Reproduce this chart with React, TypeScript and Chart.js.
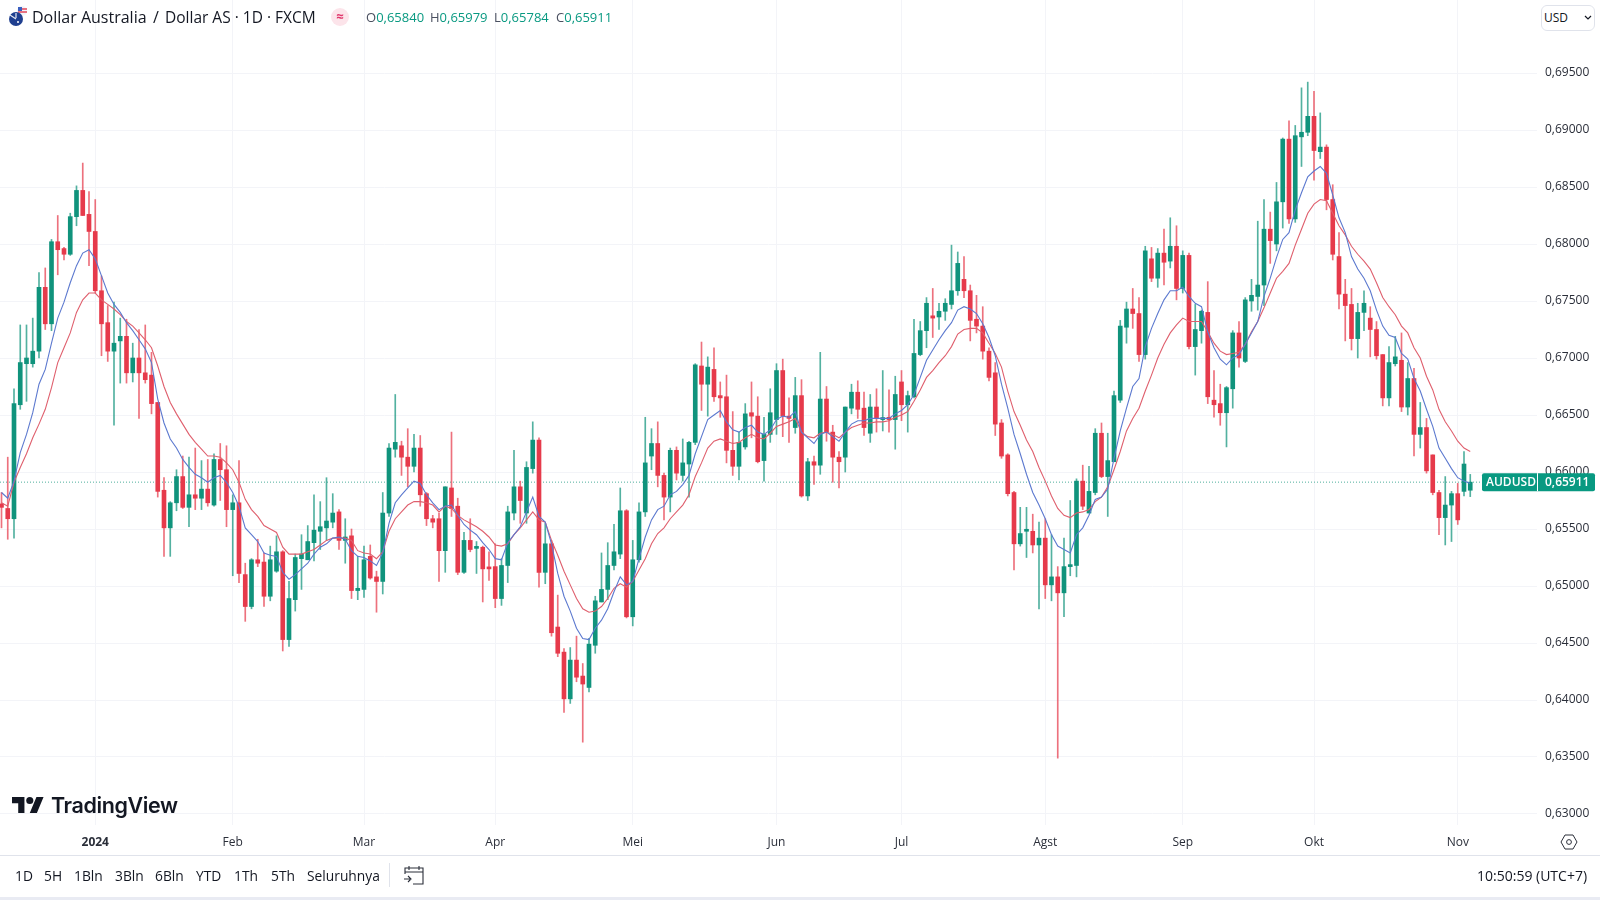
import React, { useEffect, useRef } from "react";
import { Chart, registerables } from "chart.js";

Chart.register(...registerables);

const opens = [0.6572,0.6568,0.6559,0.6659,0.6695,0.6695,0.6706,0.6762,0.673,0.6802,
0.6796,0.6791,0.6824,0.6847,0.6826,0.6811,0.6759,0.6731,0.6706,0.6715,
0.6719,0.6687,0.67,0.6687,0.6685,0.6661,0.6584,0.6551,0.6573,0.6596,
0.6569,0.658,0.6577,0.6585,0.6571,0.6611,0.6602,0.6567,0.6573,0.651,
0.6482,0.6523,0.6521,0.6491,0.6513,0.653,0.6453,0.6488,0.6524,0.6523,
0.6538,0.6548,0.6551,0.6556,0.6565,0.654,0.6544,0.6496,0.6497,0.6526,
0.6508,0.6504,0.6564,0.662,0.6623,0.6613,0.6605,0.6621,0.6581,0.6559,
0.6559,0.6531,0.6586,0.657,0.6512,0.654,0.6533,0.6534,0.6516,0.6517,
0.6489,0.6518,0.6564,0.6587,0.6564,0.6603,0.6628,0.6512,0.6537,0.6464,
0.6442,0.6401,0.6435,0.6421,0.6411,0.6448,0.6486,0.6497,0.6518,0.6528,
0.6566,0.6473,0.6523,0.6565,0.6614,0.6625,0.6597,0.6578,0.6619,0.6597,
0.6607,0.6626,0.6693,0.6677,0.669,0.6667,0.6666,0.6619,0.6605,0.6622,
0.6652,0.6649,0.661,0.6633,0.6646,0.6689,0.6649,0.6639,0.6667,0.6579,
0.6609,0.6606,0.6664,0.6635,0.6613,0.6613,0.6656,0.667,0.6656,0.6634,
0.6657,0.6646,0.6648,0.6646,0.6679,0.6659,0.6666,0.6703,0.6724,0.6737,
0.6736,0.6741,0.6747,0.6759,0.6769,0.6759,0.6734,0.6728,0.6706,0.6687,
0.6643,0.6615,0.6582,0.6537,0.6548,0.6548,0.6536,0.6542,0.6501,0.6508,
0.6494,0.6517,0.6518,0.6592,0.6564,0.6582,0.6634,0.6596,0.6609,0.6663,
0.6727,0.6743,0.6739,0.6703,0.6787,0.677,0.6792,0.6785,0.6798,0.6761,
0.679,0.671,0.6724,0.674,0.6663,0.666,0.6652,0.6673,0.6722,0.6697,
0.675,0.6754,0.6764,0.6813,0.68,0.6837,0.6892,0.6822,0.6894,0.6898,
0.6912,0.6881,0.6885,0.6839,0.6789,0.6756,0.6747,0.6717,0.674,0.6735,
0.6725,0.6703,0.6665,0.6695,0.6698,0.6657,0.6682,0.6633,0.6639,0.6615,
0.6582,0.656,0.6571,0.6581,0.6583,0.6584];

const closes = [0.6569,0.6559,0.666,0.6696,0.67,0.6706,0.6762,0.673,0.6802,0.6795,
0.6791,0.6824,0.6847,0.6825,0.6811,0.6759,0.673,0.6706,0.6713,0.6719,
0.6687,0.67,0.6687,0.6681,0.666,0.6583,0.6551,0.6573,0.6596,0.6569,
0.658,0.6577,0.6585,0.6573,0.6611,0.6602,0.6567,0.6573,0.6511,0.6482,
0.6523,0.652,0.6491,0.6523,0.653,0.6453,0.6489,0.6525,0.6528,0.6539,
0.6549,0.6552,0.6557,0.6564,0.654,0.6543,0.6496,0.6498,0.6523,0.6507,
0.6504,0.6564,0.6621,0.6626,0.6613,0.6605,0.6621,0.658,0.6559,0.6556,
0.6531,0.6587,0.6568,0.6512,0.654,0.6532,0.6534,0.6515,0.6515,0.6489,
0.6518,0.6565,0.6587,0.6575,0.6604,0.6628,0.6512,0.6537,0.6459,0.6441,
0.6401,0.6435,0.642,0.6414,0.6449,0.6487,0.6497,0.6518,0.653,0.6566,
0.6473,0.6523,0.6565,0.6608,0.6625,0.6597,0.6578,0.6619,0.6599,0.6608,
0.6626,0.6694,0.6677,0.6692,0.6666,0.6665,0.6619,0.6605,0.6626,0.6651,
0.6649,0.6609,0.6633,0.6652,0.6689,0.6649,0.6647,0.6667,0.6579,0.6609,
0.6606,0.6664,0.6635,0.6613,0.6609,0.6657,0.667,0.6655,0.6639,0.6657,
0.6647,0.6647,0.6646,0.6668,0.6659,0.6667,0.6704,0.6724,0.6748,0.6735,
0.6741,0.6748,0.6759,0.6783,0.6759,0.6733,0.6728,0.6706,0.6683,0.6642,
0.6614,0.6581,0.6537,0.6546,0.6549,0.6536,0.6542,0.6501,0.6508,0.6494,
0.6517,0.6518,0.6592,0.657,0.6583,0.6634,0.6596,0.661,0.6667,0.6728,
0.6743,0.6739,0.6703,0.6794,0.677,0.6792,0.6784,0.6798,0.6761,0.679,
0.671,0.6725,0.6741,0.6666,0.6659,0.6652,0.6674,0.6722,0.67,0.6751,
0.6755,0.6764,0.6813,0.6803,0.6837,0.6892,0.6822,0.6895,0.6898,0.6912,
0.6882,0.6885,0.6839,0.6791,0.6756,0.6746,0.6717,0.674,0.6748,0.6725,
0.6702,0.6665,0.6696,0.6701,0.6657,0.6682,0.6633,0.6639,0.6601,0.6582,
0.656,0.6571,0.6581,0.6558,0.6607,0.65911];

const highs = [0.6582,0.6613,0.6673,0.6729,0.6729,0.6735,0.6775,0.6779,0.6804,0.6825,
0.6797,0.6827,0.6851,0.6871,0.6846,0.6839,0.6772,0.6746,0.6749,0.6735,
0.6734,0.6713,0.6725,0.6729,0.6705,0.6661,0.6595,0.6574,0.6602,0.6614,
0.6613,0.6621,0.661,0.6611,0.6616,0.6625,0.6623,0.658,0.661,0.652,
0.6524,0.6541,0.6529,0.6535,0.6544,0.6531,0.6504,0.6528,0.6545,0.6553,
0.658,0.6574,0.6595,0.6581,0.6567,0.6559,0.655,0.6526,0.6535,0.6536,
0.6513,0.6582,0.6625,0.6668,0.6627,0.6638,0.6633,0.6632,0.6582,0.6562,
0.6564,0.6587,0.6635,0.6577,0.6547,0.6559,0.6539,0.6535,0.653,0.6537,
0.6524,0.657,0.6619,0.6592,0.6609,0.6644,0.663,0.6555,0.654,0.6492,
0.6445,0.6446,0.6456,0.6432,0.6454,0.6491,0.6529,0.6538,0.6554,0.6586,
0.6567,0.654,0.6573,0.6648,0.6638,0.6644,0.6599,0.6621,0.6622,0.6629,
0.6627,0.6695,0.6714,0.6701,0.6709,0.6679,0.6685,0.6653,0.6635,0.666,
0.6679,0.6666,0.6648,0.6673,0.6695,0.6699,0.6665,0.6683,0.6681,0.6612,
0.6614,0.6705,0.6675,0.6641,0.6618,0.6657,0.6677,0.668,0.667,0.6668,
0.6673,0.6689,0.6672,0.6684,0.6689,0.6671,0.6734,0.6732,0.6753,0.6761,
0.6748,0.6752,0.6799,0.6793,0.6789,0.6764,0.6755,0.6745,0.6709,0.6696,
0.6646,0.6616,0.6583,0.6569,0.6569,0.6563,0.6556,0.6559,0.6545,0.6517,
0.6542,0.6575,0.6594,0.6606,0.6605,0.6638,0.6643,0.6634,0.6671,0.6733,
0.6749,0.6761,0.6753,0.6798,0.6797,0.6796,0.6813,0.6823,0.6816,0.6794,
0.6792,0.6747,0.6742,0.6767,0.6689,0.6677,0.6675,0.6724,0.6732,0.6753,
0.6769,0.682,0.6839,0.6828,0.6854,0.6893,0.6908,0.6904,0.6937,0.6942,
0.6934,0.6915,0.6887,0.6852,0.681,0.6769,0.6761,0.6748,0.6759,0.6745,
0.6732,0.6703,0.671,0.6719,0.6722,0.6696,0.6691,0.6661,0.6647,0.6615,
0.6584,0.6596,0.6583,0.659,0.6618,0.65979];

const lows = [0.6551,0.6541,0.6542,0.6655,0.6662,0.6692,0.67,0.6725,0.6724,0.6773,
0.6786,0.679,0.6816,0.6825,0.6781,0.6757,0.6702,0.6697,0.6641,0.6678,
0.6678,0.6679,0.6647,0.6678,0.6651,0.6578,0.6526,0.6526,0.6566,0.6568,
0.6552,0.6567,0.6567,0.657,0.657,0.6575,0.6552,0.6509,0.6503,0.6469,
0.648,0.6517,0.6482,0.6487,0.6512,0.6443,0.6447,0.6478,0.6497,0.6523,
0.6522,0.6532,0.654,0.6551,0.6532,0.652,0.6489,0.6488,0.649,0.6506,
0.6477,0.6493,0.6561,0.6613,0.6597,0.6587,0.66,0.657,0.6553,0.6551,
0.6504,0.6512,0.6561,0.651,0.6511,0.653,0.6511,0.6486,0.6505,0.6481,
0.6483,0.6503,0.6558,0.6555,0.6555,0.6599,0.6499,0.6502,0.6456,0.6438,
0.6389,0.6397,0.6416,0.6363,0.6407,0.6441,0.6486,0.6488,0.6514,0.6524,
0.6472,0.6465,0.6521,0.6561,0.6602,0.6587,0.6558,0.6565,0.6593,0.6592,
0.6578,0.6624,0.6654,0.6649,0.6662,0.6648,0.6608,0.6597,0.6593,0.662,
0.663,0.6608,0.6592,0.6626,0.6633,0.6631,0.6626,0.6634,0.6578,0.6575,
0.6589,0.6598,0.6627,0.6591,0.6586,0.66,0.6651,0.6647,0.6632,0.6626,
0.6635,0.6636,0.6635,0.662,0.6645,0.6635,0.6665,0.6702,0.6709,0.6718,
0.6725,0.6733,0.6743,0.6755,0.6753,0.6715,0.6722,0.6699,0.668,0.6632,
0.6612,0.6579,0.6514,0.6535,0.6525,0.6529,0.648,0.6489,0.6487,0.6349,
0.6473,0.6509,0.6508,0.6567,0.6564,0.658,0.6595,0.6561,0.6609,0.6661,
0.6713,0.6726,0.6697,0.6699,0.6767,0.6762,0.6764,0.6779,0.6751,0.6757,
0.6708,0.6685,0.6713,0.666,0.6648,0.6641,0.6622,0.6656,0.6692,0.6696,
0.6741,0.6742,0.6746,0.6783,0.6794,0.6814,0.6818,0.6819,0.6868,0.6895,
0.6856,0.6875,0.683,0.6786,0.6743,0.6715,0.6707,0.67,0.6724,0.6701,
0.6699,0.6658,0.6658,0.6693,0.6653,0.665,0.6614,0.6621,0.6599,0.658,
0.6545,0.6536,0.6539,0.6554,0.6579,0.65784];

const blueMA = [0.6582,0.6577,0.6592,0.6617,0.6633,0.6652,0.6677,0.669,0.6713,0.6735,
0.6749,0.6766,0.6781,0.6792,0.6795,0.6787,0.6772,0.6757,0.6747,0.674,
0.6731,0.6724,0.6716,0.6708,0.6696,0.6664,0.6643,0.6629,0.6621,0.6611,
0.6604,0.6598,0.6595,0.6591,0.6595,0.6597,0.6591,0.6582,0.657,0.6551,
0.6545,0.6539,0.6529,0.6527,0.6526,0.6512,0.6506,0.651,0.6515,0.652,
0.6528,0.6534,0.6537,0.6542,0.6543,0.6541,0.6531,0.6526,0.6525,0.6522,
0.6518,0.6529,0.6555,0.6573,0.658,0.6586,0.6592,0.659,0.658,0.6573,
0.6567,0.657,0.6571,0.6562,0.6554,0.6549,0.6545,0.6538,0.6532,0.6524,
0.6523,0.6538,0.6545,0.6552,0.6565,0.6578,0.6561,0.6556,0.6537,0.6511,
0.6491,0.6478,0.6463,0.6454,0.6453,0.6463,0.647,0.648,0.6495,0.6508,
0.6501,0.6504,0.6524,0.6543,0.6558,0.6567,0.657,0.658,0.6583,0.6589,
0.6597,0.6616,0.6631,0.6646,0.665,0.6654,0.6644,0.6637,0.6635,0.6639,
0.6641,0.6635,0.6633,0.6637,0.6646,0.6649,0.6648,0.6653,0.6635,0.663,
0.6625,0.6633,0.6635,0.6631,0.6627,0.6635,0.6642,0.6645,0.6645,0.6647,
0.6647,0.6647,0.6647,0.6651,0.6654,0.6659,0.6668,0.6683,0.6698,0.6707,
0.6716,0.6724,0.6731,0.6742,0.6745,0.6743,0.6739,0.673,0.6718,0.6702,
0.6677,0.6656,0.6633,0.6616,0.6598,0.6582,0.6571,0.6559,0.6545,0.6535,
0.6532,0.6529,0.6545,0.6551,0.6562,0.6576,0.6578,0.6585,0.6612,0.6636,
0.6656,0.6675,0.6682,0.671,0.6726,0.6739,0.6751,0.6759,0.6759,0.6762,
0.6754,0.6748,0.6745,0.6723,0.6709,0.6699,0.6694,0.67,0.6703,0.6712,
0.6722,0.6732,0.6754,0.677,0.6788,0.6804,0.681,0.683,0.6845,0.6859,
0.6864,0.6868,0.6862,0.6843,0.6823,0.681,0.6789,0.6778,0.677,0.6759,
0.6742,0.6728,0.672,0.6718,0.6704,0.6699,0.6682,0.6671,0.6655,0.664,
0.6621,0.6612,0.6603,0.6595,0.6592,0.659];

const redMA = [0.6573,0.657,0.6591,0.6604,0.6616,0.663,0.6642,0.6655,0.6674,0.6696,
0.6709,0.6722,0.674,0.6751,0.6757,0.6757,0.6751,0.6747,0.6743,0.6738,
0.6732,0.6728,0.6722,0.6716,0.6709,0.6693,0.6675,0.6661,0.6651,0.6642,
0.6633,0.6626,0.662,0.6614,0.6614,0.6613,0.6608,0.6602,0.6591,0.6576,
0.6567,0.6561,0.6553,0.655,0.6547,0.6534,0.6528,0.6528,0.6528,0.653,
0.6532,0.6536,0.654,0.6542,0.6542,0.6542,0.654,0.6531,0.6529,0.6528,
0.6524,0.653,0.6548,0.6559,0.6565,0.6571,0.6574,0.6574,0.6573,0.6571,
0.6565,0.657,0.6568,0.6562,0.6558,0.6555,0.6552,0.6548,0.6543,0.6536,
0.6535,0.6537,0.6545,0.6551,0.6558,0.6565,0.6558,0.6556,0.654,0.6527,
0.6513,0.6501,0.6489,0.648,0.6477,0.6478,0.6482,0.6489,0.6498,0.6502,
0.6499,0.6504,0.6514,0.6524,0.6537,0.6546,0.6551,0.6559,0.6565,0.6571,
0.658,0.6596,0.6608,0.6621,0.6627,0.6629,0.6627,0.6625,0.6626,0.663,
0.6633,0.663,0.6629,0.6634,0.664,0.6642,0.6644,0.6647,0.6635,0.6631,
0.663,0.6634,0.6635,0.6633,0.663,0.6635,0.6639,0.6641,0.6643,0.6643,
0.6644,0.6644,0.6645,0.6648,0.665,0.6653,0.6662,0.6672,0.6683,0.6689,
0.6696,0.6702,0.671,0.6721,0.6725,0.6726,0.6726,0.6722,0.6713,0.6704,
0.6692,0.6671,0.6653,0.6641,0.6628,0.6618,0.6604,0.6592,0.6579,0.6568,
0.6562,0.656,0.6564,0.6565,0.6567,0.6574,0.6578,0.6587,0.6602,0.6618,
0.6636,0.6647,0.6656,0.6671,0.6685,0.67,0.6712,0.6722,0.6729,0.6735,
0.6732,0.6732,0.6732,0.6723,0.6713,0.6706,0.6703,0.6704,0.6705,0.6712,
0.6723,0.6732,0.6744,0.6757,0.677,0.6776,0.6783,0.6799,0.6813,0.6827,
0.6835,0.6839,0.6838,0.6827,0.6816,0.6808,0.6798,0.6791,0.6785,0.6778,
0.6766,0.6753,0.6745,0.6738,0.6728,0.6722,0.6709,0.67,0.6684,0.6672,
0.6655,0.6644,0.6636,0.6627,0.6621,0.6618];

const priceTicks = [0.695,0.69,0.685,0.68,0.675,0.67,0.665,0.66,0.655,0.65,0.645,0.64,0.635,0.63];
const monthCandles = [16,38,59,80,102,125,145,168,190,211,234];
const monthLabels = ["2024","Feb","Mar","Apr","Mei","Jun","Jul","Agst","Sep","Okt","Nov"];
const ranges = ["1D","5H","1Bln","3Bln","6Bln","YTD","1Th","5Th","Seluruhnya"];
const rangeLefts = [15,44,74,115,155,196,234,271,307];
const ohlcLabels = ["O","H","L","C"];
const ohlcValues = ["0,65840","0,65979","0,65784","0,65911"];
const ohlcLefts = [366,430,494,556];
const lastClose = 0.65911;

const FONT = '"Open Sans", "Noto Sans", sans-serif';
const GREEN = "#10937c";
const RED = "#e63a4b";
const GREEN_WICK = "rgba(16,147,124,0.72)";
const RED_WICK = "rgba(230,58,75,0.72)";
const UP = "#089981";
const GRID = "#f3f4f8";

const fmt = (v: number) => v.toFixed(5).replace(".", ",");

const priceTag = {
  id: "priceTag",
  afterDraw(chart: any) {
    const { ctx, scales } = chart;
    const y = scales.y.getPixelForValue(lastClose);
    ctx.save();
    ctx.fillStyle = UP;
    ctx.beginPath();
    ctx.roundRect(1482, y - 9, 113, 18, 2);
    ctx.fill();
    ctx.fillStyle = "#ffffff";
    ctx.fillRect(1537, y - 9, 1, 18);
    ctx.font = `600 12px ${FONT}`;
    ctx.textBaseline = "middle";
    ctx.textAlign = "left";
    ctx.fillText("AUDUSD", 1486, y + 0.5);
    ctx.fillText(fmt(lastClose), 1545, y + 0.5);
    ctx.restore();
  },
};

const textStyle = (left: number, top: number, size: number, color = "#131722"): React.CSSProperties => ({
  position: "absolute",
  left,
  top,
  fontSize: size,
  lineHeight: "20px",
  color,
  whiteSpace: "nowrap",
  fontFamily: FONT,
});

export default function App() {
  const ref = useRef<HTMLCanvasElement>(null);

  useEffect(() => {
    document.body.style.margin = "0";
    const idx = opens.map((_, i) => i + 1);
    const colors = idx.map((_, i) => (closes[i] >= opens[i] ? GREEN : RED));
    const wickColors = idx.map((_, i) => (closes[i] >= opens[i] ? GREEN_WICK : RED_WICK));
    const xMin = 0.76;
    const xMax = 0.76 + 1537 / 6.25;
    const chart = new Chart(ref.current as HTMLCanvasElement, {
      type: "bar",
      data: {
        datasets: [
          {
            type: "line",
            data: idx.map((x, i) => ({ x, y: blueMA[i] })),
            borderColor: "#5c79cf",
            borderWidth: 1.1,
            pointRadius: 0,
            tension: 0,
            order: 0,
          },
          {
            type: "line",
            data: idx.map((x, i) => ({ x, y: redMA[i] })),
            borderColor: "#df5f6d",
            borderWidth: 1.1,
            pointRadius: 0,
            tension: 0,
            order: 1,
          },
          {
            type: "bar",
            data: idx.map((x, i) => ({ x, y: [opens[i], closes[i]] })),
            backgroundColor: colors,
            barThickness: 4,
            minBarLength: 2,
            grouped: false,
            order: 2,
          },
          {
            type: "bar",
            data: idx.map((x, i) => ({ x, y: [lows[i], highs[i]] })),
            backgroundColor: wickColors,
            barThickness: 1,
            grouped: false,
            order: 3,
          },
          {
            type: "line",
            data: [
              { x: xMin, y: lastClose },
              { x: xMax, y: lastClose },
            ],
            borderColor: "#4fae9c",
            borderWidth: 1,
            borderDash: [1, 2],
            pointRadius: 0,
            order: 4,
          },
        ],
      } as any,
      options: {
        animation: false,
        responsive: false,
        devicePixelRatio: 1,
        layout: { padding: 0 },
        plugins: { legend: { display: false }, tooltip: { enabled: false } },
        scales: {
          x: {
            type: "linear",
            min: xMin,
            max: xMax,
            offset: false,
            grid: { color: GRID, lineWidth: 1, drawTicks: false, offset: false },
            border: { display: false },
            afterFit(scale: any) {
              scale.height = 75;
              scale.paddingLeft = 0;
              scale.paddingRight = 0;
            },
            afterBuildTicks(scale: any) {
              scale.ticks = monthCandles.map((value) => ({ value }));
            },
            ticks: {
              autoSkip: false,
              maxRotation: 0,
              padding: 10,
              color: "#2a2e39",
              font: (ctx: any) => ({
                family: FONT,
                size: 12,
                weight: ctx.index === 0 ? "700" : "400",
              }),
              callback: (_v: any, i: number) => monthLabels[i],
            },
          },
          y: {
            type: "linear",
            position: "right",
            min: 0.629035,
            max: 0.701404,
            grid: { color: GRID, lineWidth: 1, drawTicks: false },
            border: { display: false },
            afterFit(scale: any) {
              scale.width = 63;
              scale.paddingTop = 0;
              scale.paddingBottom = 0;
            },
            afterBuildTicks(scale: any) {
              scale.ticks = priceTicks.map((value) => ({ value }));
            },
            ticks: {
              autoSkip: false,
              padding: 8,
              color: "#2a2e39",
              font: { family: FONT, size: 12 },
              callback: (v: any) => fmt(Number(v)),
            },
          },
        },
      } as any,
      plugins: [priceTag],
    });
    return () => chart.destroy();
  }, []);

  return (
    <div style={{ position: "fixed", left: 0, top: 0, width: 1600, height: 900, background: "#fff", overflow: "hidden" }}>
      <canvas ref={ref} width={1600} height={900} style={{ position: "absolute", left: 0, top: 0, width: 1600, height: 900 }} />

      <svg width="22" height="24" viewBox="0 0 22 24" style={{ position: "absolute", left: 7, top: 4 }}>
        <circle cx="15" cy="7" r="5" fill="#f3f4f8" />
        <path d="M11 5h9M11 8h9" stroke="#e3465a" strokeWidth="1.4" />
        <path d="M11 3h4v4h-4z" fill="#3b5fc0" />
        <circle cx="9" cy="15" r="7" fill="#1f3f8f" />
        <path d="M3 11l6 4M9 9v5" stroke="#e8eaf2" strokeWidth="1.2" />
        <circle cx="11" cy="18" r="1" fill="#fff" />
      </svg>
      <div style={textStyle(32, 7, 16)}>Dollar Australia</div>
      <div style={textStyle(153, 7, 16)}>/</div>
      <div style={textStyle(165, 7, 15.5)}>Dollar AS · 1D · FXCM</div>
      <div style={{ position: "absolute", left: 331, top: 8, width: 18, height: 18, borderRadius: 9, background: "#fce4ea", color: "#e0356b", fontSize: 13, lineHeight: "17px", textAlign: "center", fontFamily: FONT, fontWeight: 700 }}>≈</div>
      {ohlcLabels.map((label, i) => (
        <div key={label} style={textStyle(ohlcLefts[i], 7, 13, "#4a5060")}>
          {label}
          <span style={{ color: UP }}>{ohlcValues[i]}</span>
        </div>
      ))}

      <div style={{ position: "absolute", left: 1541, top: 5, width: 54, height: 26, boxSizing: "border-box", border: "1px solid #e0e3eb", borderRadius: 6, background: "#fff" }} />
      <div style={textStyle(1544, 8, 12)}>USD</div>
      <svg width="8" height="5" viewBox="0 0 8 5" style={{ position: "absolute", left: 1584, top: 15 }}>
        <path d="M1 1l3 3 3-3" fill="none" stroke="#131722" strokeWidth="1.2" />
      </svg>

      <svg width="32" height="18" viewBox="0 0 36 20" style={{ position: "absolute", left: 12, top: 796 }}>
        <path d="M14 19H7V8H0V1h14v18zM28 19h-8l7.5-18h8L28 19z" fill="#131722" />
        <circle cx="20" cy="5" r="4" fill="#131722" />
      </svg>
      <div style={{ ...textStyle(51, 793, 21.5), lineHeight: "24px", fontFamily: "Inter, sans-serif", fontWeight: 600, letterSpacing: -0.4 }}>TradingView</div>

      <svg width="18" height="18" viewBox="0 0 18 18" style={{ position: "absolute", left: 1560, top: 833 }}>
        <path d="M5 2h8l4 7-4 7H5L1 9z" fill="none" stroke="#2a2e39" strokeWidth="1" />
        <circle cx="9" cy="9" r="2.4" fill="none" stroke="#2a2e39" strokeWidth="1" />
      </svg>

      <div style={{ position: "absolute", left: 0, top: 855, width: 1600, height: 1, background: "#e0e3eb" }} />
      {ranges.map((label, i) => (
        <div key={label} style={textStyle(rangeLefts[i], 866, 13.8)}>{label}</div>
      ))}
      <div style={{ position: "absolute", left: 389, top: 863, width: 1, height: 24, background: "#e0e3eb" }} />
      <svg width="22" height="20" viewBox="0 0 22 20" style={{ position: "absolute", left: 403, top: 865 }}>
        <path d="M2 9V3h18v16H10M2 7h18M6 1v4M16 1v4M1 14h6M5 11l3 3-3 3" fill="none" stroke="#2a2e39" strokeWidth="1.1" />
      </svg>
      <div style={textStyle(1477, 866, 14)}>10:50:59 (UTC+7)</div>
      <div style={{ position: "absolute", left: 0, top: 897, width: 1600, height: 3, background: "#e9ebf3" }} />
    </div>
  );
}
